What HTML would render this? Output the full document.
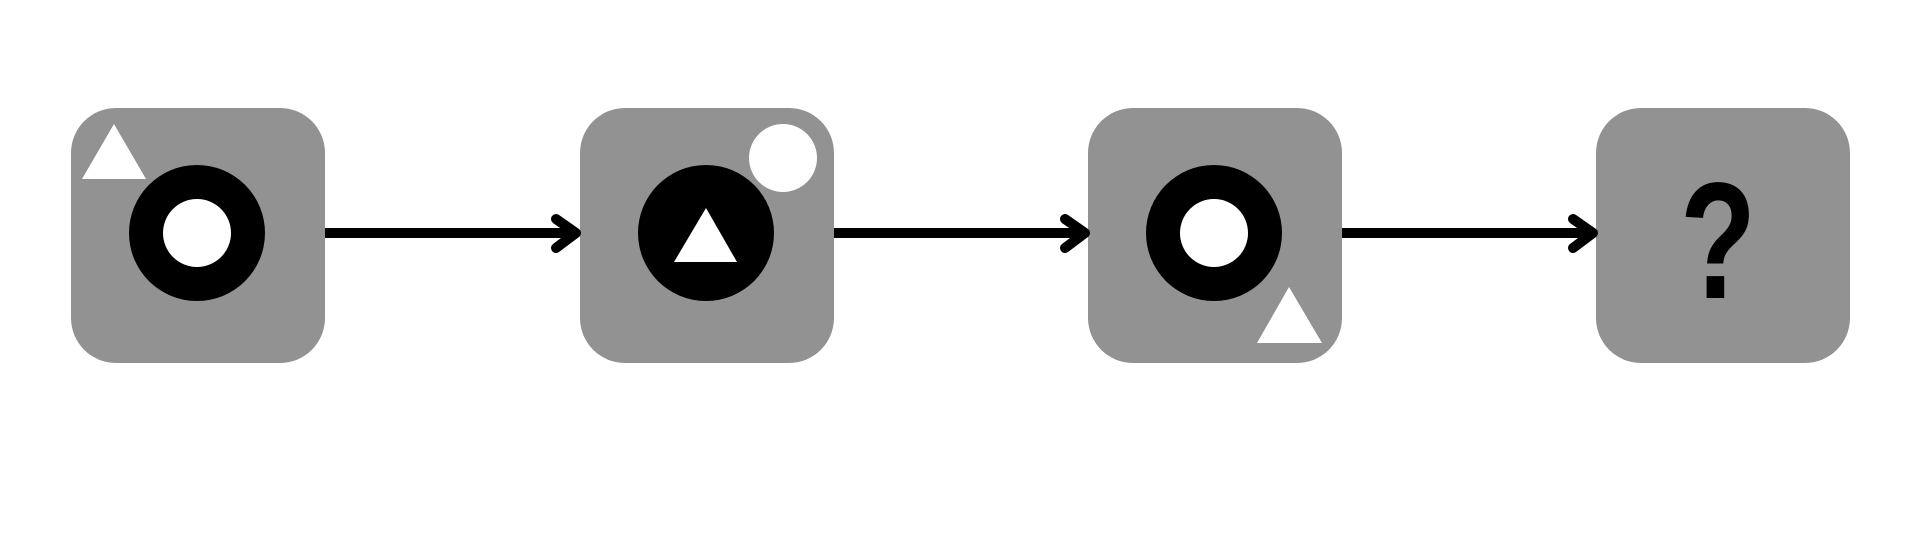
<!DOCTYPE html>
<html><head><meta charset="utf-8"><style>
html,body{margin:0;padding:0;background:#fff;width:1920px;height:540px;overflow:hidden}
svg{display:block}
</style></head><body>
<svg width="1920" height="540" viewBox="0 0 1920 540" xmlns="http://www.w3.org/2000/svg">
<g fill="#929292">
<rect x="71" y="108" width="254" height="255" rx="45"/>
<rect x="580" y="108" width="254" height="255" rx="45"/>
<rect x="1088" y="108" width="254" height="255" rx="45"/>
<rect x="1596" y="108" width="254" height="255" rx="45"/>
</g>
<g stroke="#000" stroke-width="10" fill="none" stroke-linecap="round" stroke-linejoin="round">
<line x1="325" y1="233" x2="574" y2="233" stroke-linecap="butt"/>
<polyline points="556,219 576,233 556,248"/>
<line x1="834" y1="233" x2="1083" y2="233" stroke-linecap="butt"/>
<polyline points="1065,219 1085,233 1065,248"/>
<line x1="1342" y1="233" x2="1591" y2="233" stroke-linecap="butt"/>
<polyline points="1573,219 1593,233 1573,248"/>
</g>
<!-- box1 -->
<polygon points="114,124 146,179 82,179" fill="#fff"/>
<circle cx="197" cy="233" r="68" fill="#000"/>
<circle cx="197" cy="233" r="34" fill="#fff"/>
<!-- box2 -->
<circle cx="706" cy="233" r="68" fill="#000"/>
<polygon points="706,208 737,262 674,262" fill="#fff"/>
<circle cx="783" cy="158" r="34" fill="#fff"/>
<!-- box3 -->
<circle cx="1214" cy="233" r="68" fill="#000"/>
<circle cx="1214" cy="233" r="34" fill="#fff"/>
<polygon points="1289,287 1322,343 1257,343" fill="#fff"/>
<!-- box4 -->
<text transform="translate(1718,298) scale(0.75,1)" x="0" y="0" text-anchor="middle" font-family="Liberation Sans, sans-serif" font-weight="bold" font-size="166" fill="#000">?</text>
</svg>
</body></html>
